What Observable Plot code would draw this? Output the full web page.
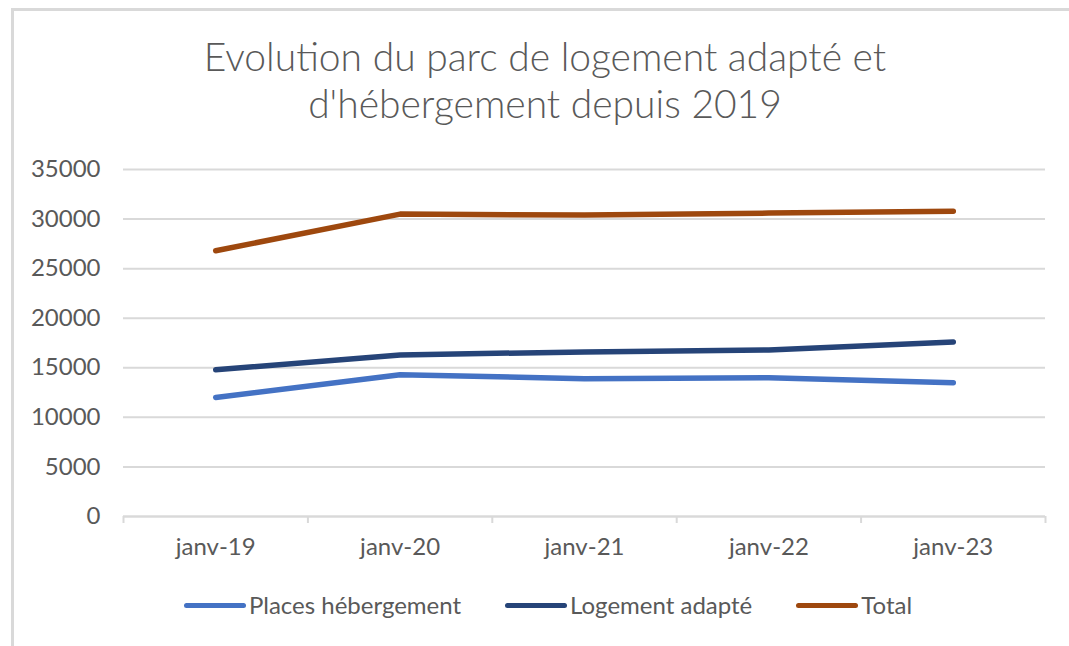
<!DOCTYPE html>
<html>
<head>
<meta charset="utf-8">
<script src="https://cdn.jsdelivr.net/npm/d3@7"></script>
<script src="https://cdn.jsdelivr.net/npm/@observablehq/plot@0.6"></script>
<style>
  html, body { margin: 0; padding: 0; background: #fff; width: 1069px; height: 646px; overflow: hidden; }
  body { position: relative; font-family: Lato, "Open Sans", "DejaVu Sans", sans-serif; color: #595959; }
  #frame { position: absolute; left: 11px; top: 8px; width: 1100px; height: 700px;
           border-left: 3px solid #d9d9d9; border-top: 3px solid #d9d9d9; box-sizing: border-box; }
  #title { position: absolute; left: 0; width: 1090px; top: 33px; text-align: center;
           font-size: 39px; font-weight: 300; line-height: 47px; color: #595959; }
  #chart { position: absolute; left: 0; top: 140px; }
  #legend { position: absolute; left: 0; width: 1096px; top: 590px; display: flex; justify-content: center;
            gap: 44px; font-size: 24px; line-height: 30px; color: #595959; }
  .item { display: flex; align-items: center; }
  .sw { display: inline-block; width: 62px; height: 5px; border-radius: 3px; margin-right: 3px; }
</style>
</head>
<body>
<div id="frame"></div>
<div id="title">Evolution du parc de logement adapté et<br>d'hébergement depuis 2019</div>
<div id="chart"></div>
<div id="legend"></div>
<script>
const categories = ["janv-19", "janv-20", "janv-21", "janv-22", "janv-23"];
const placesHebergement = [12000, 14300, 13900, 14000, 13500];
const logementAdapte = [14800, 16300, 16600, 16800, 17600];
const total = [26800, 30500, 30400, 30600, 30800];
const seriesNames = ["Places hébergement", "Logement adapté", "Total"];
const seriesColors = ["#4472C4", "#264478", "#9E480E"];
const yTicks = [0, 5000, 10000, 15000, 20000, 25000, 30000, 35000];

const seriesValues = [placesHebergement, logementAdapte, total];
const data = [];
seriesValues.forEach((vals, s) => {
  vals.forEach((v, i) => data.push({series: seriesNames[s], xi: i + 0.5, value: v}));
});
const boundaries = d3.range(categories.length + 1);
const centers = categories.map((c, i) => i + 0.5);

const chart = Plot.plot({
  width: 1069,
  height: 440,
  marginLeft: 123,
  marginRight: 24,
  marginTop: 29,
  marginBottom: 64,
  x: {domain: [0, categories.length], axis: null},
  y: {domain: [0, 35000], axis: null},
  color: {domain: seriesNames, range: seriesColors},
  style: {fontFamily: 'Lato, "Open Sans", sans-serif', fontSize: "24px", color: "#595959", background: "transparent"},
  marks: [
    Plot.gridY(yTicks, {stroke: "#d9d9d9", strokeOpacity: 1, strokeWidth: 2}),
    Plot.axisY({ticks: yTicks, tickSize: 0, tickPadding: 23, tickFormat: d => String(d), fill: "#595959", fontSize: 24, label: null}),
    Plot.axisX({ticks: boundaries, tickSize: 7, tickFormat: () => "", stroke: "#d9d9d9", strokeWidth: 2, strokeOpacity: 1, label: null}),
    Plot.axisX({ticks: centers, tickSize: 0, tickPadding: 21, tickFormat: v => categories[Math.floor(v)], fill: "#595959", fontSize: 24, label: null}),
    Plot.ruleY([0], {stroke: "#d9d9d9", strokeWidth: 2}),
    Plot.line(data, {x: "xi", y: "value", z: "series", stroke: "series", strokeWidth: 5.5, strokeLinecap: "round", strokeLinejoin: "round"})
  ]
});
document.getElementById("chart").appendChild(chart);

const legend = document.getElementById("legend");
seriesNames.forEach((name, i) => {
  const item = document.createElement("div");
  item.className = "item";
  const sw = document.createElement("span");
  sw.className = "sw";
  sw.style.background = seriesColors[i];
  const label = document.createElement("span");
  label.textContent = name;
  item.appendChild(sw);
  item.appendChild(label);
  legend.appendChild(item);
});
</script>
</body>
</html>
